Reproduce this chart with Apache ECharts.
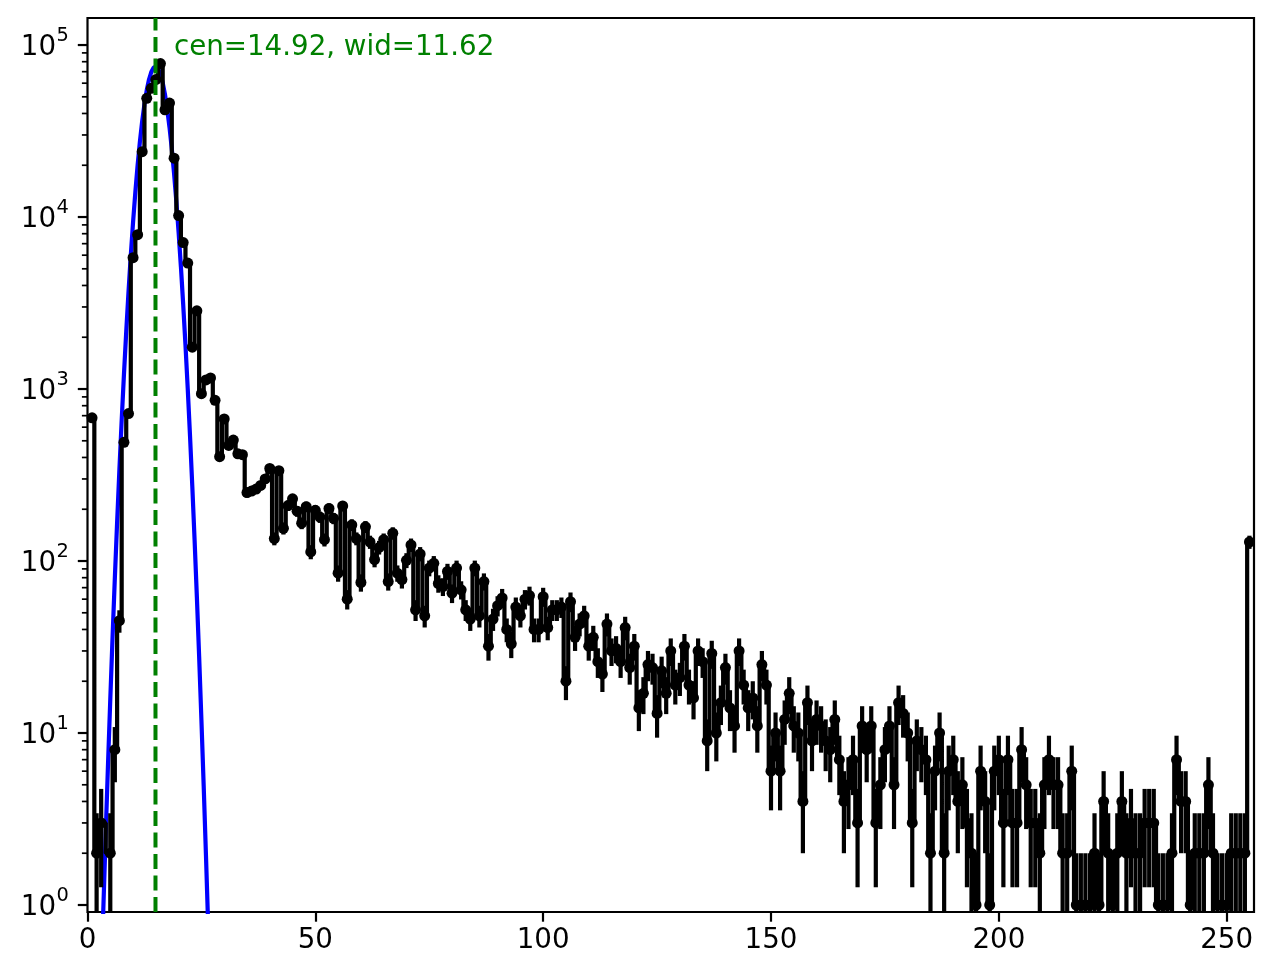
<!DOCTYPE html>
<html>
<head>
<meta charset="utf-8">
<script src="https://cdn.jsdelivr.net/npm/echarts@6/dist/echarts.min.js"></script>
<style>
html,body{margin:0;padding:0;background:#ffffff;}
#chart{width:1273px;height:980px;}
</style>
</head>
<body>
<div id="chart"></div>
<script>
// ---------------- data ----------------
const firstChannel = 1;   // counts[i] belongs to channel firstChannel + i
const counts = [
  680, 2, 3, null, 2, 8, 45, 490, 720, 5800,
  7900, 24000, 49000, 56000, 63000, 78000, 42000, 46000, 22000, 10200,
  7100, 5400, 1750, 2850, 940, 1130, 1160, 860, 404, 670,
  470, 505, 420, 415, 250, 255, 262, 275, 300, 345,
  135, 335, 155, 210, 230, 195, 166, 207, 113, 197,
  180, 133, 202, 177, 85, 209, 60, 162, 135, 75,
  158, 129, 102, 120, 133, 76, 145, 85, 78, 101,
  124, 52, 110, 48, 91, 97, 74, 71, 87, 65,
  91, 68, 52, 46, 91, 48, 76, 32, 46, 55,
  61, 40, 33, 54, 48, 60, 63, 40, 40, 62,
  41, 52, 52, 54, 20, 58, 36, 43, 48, 32,
  36, 26, 22, 43, 30, 31, 26, 41, 24, 32,
  14, 17, 25, 24, 13, 23, 17, 30, 19, 21,
  32, 19, 16, 30, 26, 9, 29, 10, 15, 24,
  14, 11, 30, 19, 14, 16, 11, 25, 19, 6,
  10, 6, 12, 17, 11, 10, 4, 15, 9, 12,
  11, 9, 8, 12, 7, 4, 5, 7, 3, 11,
  8, 11, 3, 5, 8, 11, 5, 15, 13, 10,
  3, 9, 8, 7, 2, 6, 10, 2, 6, 7,
  4, 5, 3, 2, 1, 6, 4, 1, 6, 7,
  3, 7, 3, 3, 8, 5, 3, 3, 2, 5,
  7, 5, 5, 2, 2, 6, 1, 1, 1, 1,
  2, 1, 4, 2, 1, 2, 4, 2, 3, 2,
  2, 3, 3, 3, 1, 1, 1, 2, 7, 4,
  4, 1, 2, 2, 2, 5, 2, 1, 1, 1,
  2, 2, 2, 2, 129
];

const fitX = [3.0, 3.5, 4.0, 4.5, 5.0, 5.5, 6.0, 6.5, 7.0, 7.5, 8.0, 8.5, 9.0, 9.5, 10.0,
  10.5, 11.0, 11.5, 12.0, 12.5, 13.0, 13.5, 14.0, 14.5, 15.0, 15.5, 16.0, 16.5, 17.0,
  17.5, 18.0, 18.5, 19.0, 19.5, 20.0, 20.5, 21.0, 21.5, 22.0, 22.5, 23.0, 23.5, 24.0,
  24.5, 25.0, 25.5, 26.0, 26.5, 27.0];
const fitY = [0.37, 1.0, 2.62, 6.56, 15.7, 36.1, 79.6, 168, 339, 656, 1216, 2158, 3673, 5984, 9333,
  13960, 20000, 27400, 36000, 45300, 54600, 63000, 69700, 73900, 74960, 72800, 67800, 60500, 51700,
  42300, 33200, 24900, 17900, 12330, 8130, 5140, 3110, 1807, 1002, 533, 272, 133, 62.1,
  27.9, 11.9, 4.92, 1.94, 0.73, 0.26];

const fitCenter = 14.92;
const fitWidth = 11.62;

const xTicks = [0, 50, 100, 150, 200, 250];
const yMajorTicks = [1, 10, 100, 1000, 10000, 100000];
const yExponents = ['0', '1', '2', '3', '4', '5'];
const yMinorTicks = [2, 3, 4, 5, 6, 7, 8, 9,
  20, 30, 40, 50, 60, 70, 80, 90,
  200, 300, 400, 500, 600, 700, 800, 900,
  2000, 3000, 4000, 5000, 6000, 7000, 8000, 9000,
  20000, 30000, 40000, 50000, 60000, 70000, 80000, 90000];

const X_MIN = 0, X_MAX = 256;
const Y_MIN = 0.9106, Y_MAX = 143600;

// ---------------- build ----------------
const FONT = 'DejaVu Sans';
const LW = 4.2;
const pts = [];
const bars = [];
counts.forEach((n, i) => {
  const x = firstChannel + i;
  if (n === null) return;
  pts.push([x, n]);
  const e = Math.sqrt(n);
  bars.push([x, n - e, n + e]);
});
const fitData = fitX.map((x, i) => [x, fitY[i]]);

const chart = echarts.init(document.getElementById('chart'), null, {renderer: 'canvas'});

const option = {
  animation: false,
  backgroundColor: '#ffffff',
  grid: {
    left: 87.5, right: 19, top: 18, bottom: 68,
    show: true, borderColor: '#000', borderWidth: 2.2, backgroundColor: 'transparent'
  },
  xAxis: {
    type: 'value', min: X_MIN, max: X_MAX, interval: 50,
    axisLine: {show: false},
    splitLine: {show: false},
    axisTick: {show: true, customValues: xTicks, length: 9.7, lineStyle: {color: '#000', width: 2.2}},
    axisLabel: {show: true, customValues: xTicks, color: '#000', fontSize: 27.7, fontFamily: FONT, margin: 15}
  },
  yAxis: {
    type: 'log', logBase: 10, min: Y_MIN, max: Y_MAX,
    axisLine: {show: false},
    splitLine: {show: false},
    axisTick: {show: false},
    axisLabel: {show: false}
  },
  series: [
    {
      name: 'fit', type: 'line', data: fitData, showSymbol: false, symbol: 'none',
      lineStyle: {color: '#0000ff', width: LW}, clip: true, z: 2, silent: true
    },
    {
      name: 'errors', type: 'custom', data: bars, clip: true, z: 3, silent: true,
      encode: {x: 0, y: [1, 2]},
      renderItem: function (params, api) {
        const x = api.value(0);
        const lo = Math.max(api.value(1), 1e-3);
        const hi = api.value(2);
        const p1 = api.coord([x, lo]);
        const p2 = api.coord([x, hi]);
        return {type: 'line', shape: {x1: p1[0], y1: p1[1], x2: p2[0], y2: p2[1]},
          style: {stroke: '#000', lineWidth: LW}};
      }
    },
    {
      name: 'data', type: 'line', data: pts, connectNulls: true, step: 'middle',
      symbol: 'circle', symbolSize: 11, showAllSymbol: true,
      itemStyle: {color: '#000'}, lineStyle: {color: '#000', width: LW},
      clip: true, z: 4, silent: true
    },
    {
      name: 'center', type: 'line', data: [[fitCenter, Y_MIN], [fitCenter, Y_MAX]],
      showSymbol: false, symbol: 'none',
      lineStyle: {color: '#008000', width: 4, type: [15, 6.5]}, z: 5, silent: true
    },
    {
      name: 'yMinor', type: 'custom', data: yMinorTicks.map(v => [X_MIN, v]), clip: false, silent: true, z: 6,
      encode: {x: 0, y: 1},
      renderItem: function (params, api) {
        const p = api.coord([api.value(0), api.value(1)]);
        return {type: 'line', shape: {x1: p[0] - 5.6, y1: p[1], x2: p[0], y2: p[1]},
          style: {stroke: '#000', lineWidth: 1.7}};
      }
    },
    {
      name: 'yMajor', type: 'custom', data: yMajorTicks.map(v => [X_MIN, v]), clip: false, silent: true, z: 6,
      encode: {x: 0, y: 1},
      renderItem: function (params, api) {
        const p = api.coord([api.value(0), api.value(1)]);
        const exp = yExponents[params.dataIndex];
        return {type: 'group', children: [
          {type: 'line', shape: {x1: p[0] - 9.7, y1: p[1], x2: p[0], y2: p[1]},
            style: {stroke: '#000', lineWidth: 2.2}},
          {type: 'text', x: p[0] - 31.5, y: p[1] + 3,
            style: {text: '10', fill: '#000', fontSize: 27.7, fontFamily: FONT, align: 'right', verticalAlign: 'middle'}},
          {type: 'text', x: p[0] - 31, y: p[1] - 9,
            style: {text: exp, fill: '#000', fontSize: 19.4, fontFamily: FONT, align: 'left', verticalAlign: 'middle'}}
        ]};
      }
    }
  ],
  graphic: [
    {
      type: 'text', left: 174, top: 34, z: 10, silent: true,
      style: {text: 'cen=' + fitCenter.toFixed(2) + ', wid=' + fitWidth.toFixed(2),
        fill: '#008000', fontSize: 27.7, fontFamily: FONT}
    }
  ]
};
chart.setOption(option);
</script>
</body>
</html>
